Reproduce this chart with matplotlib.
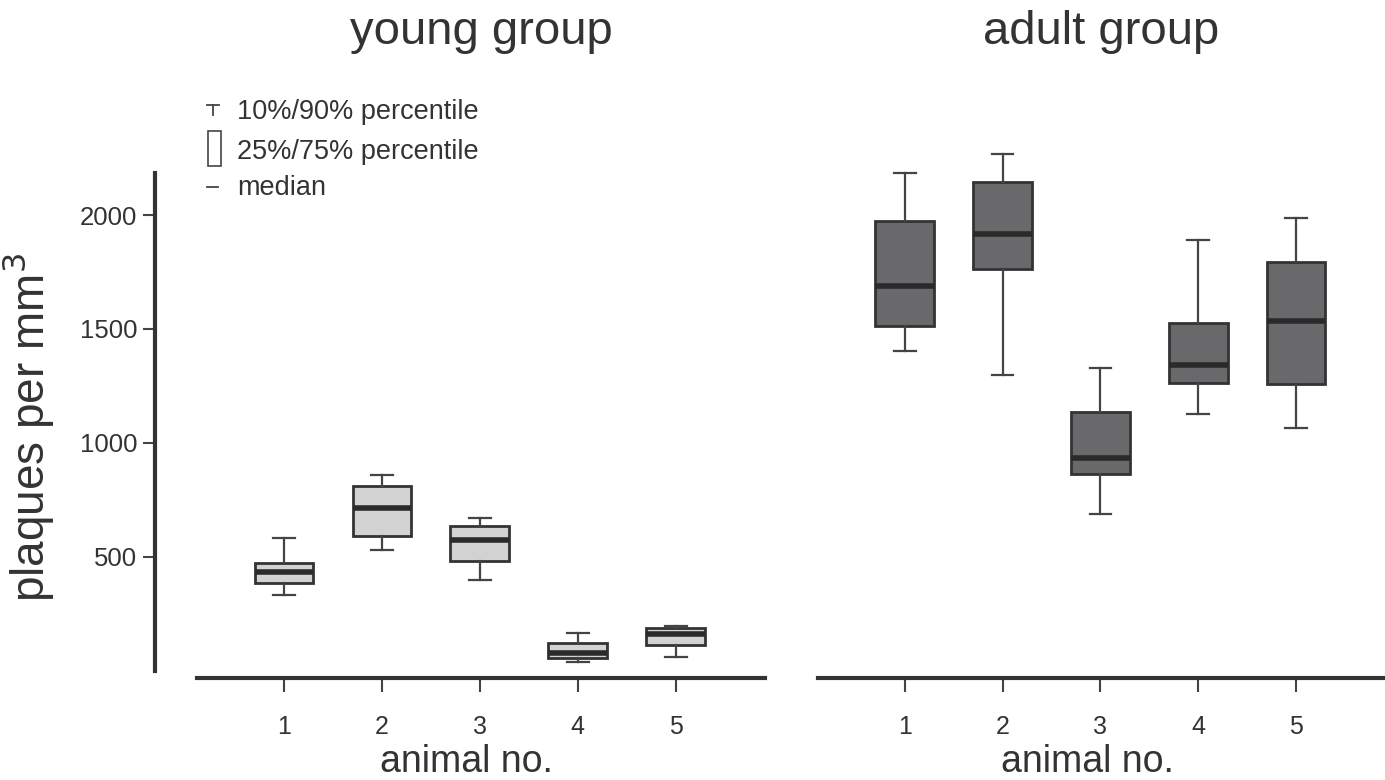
import matplotlib
matplotlib.use('Agg')
import matplotlib.pyplot as plt
from matplotlib.lines import Line2D
from matplotlib.patches import Rectangle

plt.rcParams['font.family'] = ['Liberation Sans', 'DejaVu Sans']

##### Data
animals = [1, 2, 3, 4, 5]

# young group: 10% / 25% / median / 75% / 90%
young_p10 = [332, 531, 400, 41, 63]
young_q1 = [386, 592, 482, 58, 113]
young_med = [433, 713, 573, 80, 164]
young_q3 = [472, 813, 635, 121, 190]
young_p90 = [582, 860, 671, 165, 197]

# adult group
adult_p10 = [1404, 1298, 689, 1126, 1064]
adult_q1 = [1515, 1763, 864, 1265, 1259]
adult_med = [1689, 1917, 936, 1342, 1534]
adult_q3 = [1974, 2143, 1136, 1525, 1794]
adult_p90 = [2185, 2268, 1328, 1889, 1988]

yticks = [500, 1000, 1500, 2000]
titles = ['young group', 'adult group']

TXT = '#333333'
LIGHT = '#d2d2d2'
DARK = '#69696c'


def make_stats(lo, q1, med, q3, hi):
    stats = []
    for a, b, c, d, e in zip(lo, q1, med, q3, hi):
        stats.append({'whislo': a, 'q1': b, 'med': c, 'q3': d, 'whishi': e, 'fliers': []})
    return stats


fig = plt.figure(figsize=(13.85, 7.8), dpi=100)
ax_y = fig.add_axes([0.1422, 0.1308, 0.4101, 0.6812])
ax_a = fig.add_axes([0.5906, 0.1308, 0.4094, 0.6812])

groups = [(ax_y, make_stats(young_p10, young_q1, young_med, young_q3, young_p90), LIGHT),
          (ax_a, make_stats(adult_p10, adult_q1, adult_med, adult_q3, adult_p90), DARK)]

for i, (ax, stats, fill) in enumerate(groups):
    ax.bxp(stats, positions=animals, widths=0.6, capwidths=0.22, patch_artist=True,
           showfliers=False,
           boxprops=dict(facecolor=fill, edgecolor='#333333', linewidth=2),
           medianprops=dict(color='#2a2a2a', linewidth=4, solid_capstyle='butt'),
           whiskerprops=dict(color='#444444', linewidth=1.6),
           capprops=dict(color='#444444', linewidth=1.6))
    ax.set_xlim(0.112, 5.91)
    ax.set_ylim(-31, 2300)
    ax.set_xticks(animals)
    ax.set_xticklabels([str(a) for a in animals])
    for s in ['top', 'right', 'left']:
        ax.spines[s].set_visible(False)
    ax.spines['bottom'].set_linewidth(3)
    ax.spines['bottom'].set_color('#333333')
    ax.tick_params(axis='x', direction='out', length=10, width=1.5, color='#444444',
                   labelsize=18, labelcolor=TXT, pad=17)
    ax.set_xlabel('animal no.', fontsize=27, color=TXT)
    ax.xaxis.set_label_coords(0.475, -0.124)
    ax.set_title(titles[i], fontsize=34, color=TXT, pad=74)
    ax.patch.set_visible(False)

# y axis only on the left panel, detached from the x-axis line
ax_y.spines['left'].set_visible(True)
ax_y.spines['left'].set_linewidth(3)
ax_y.spines['left'].set_color('#333333')
ax_y.spines['left'].set_position(('outward', 30))
ax_y.spines['left'].set_bounds(0, 2185)
ax_y.set_yticks(yticks)
ax_y.set_yticklabels([str(t) for t in yticks])
ax_y.tick_params(axis='y', direction='out', length=9, width=1.5, color='#444444',
                 labelsize=18.5, labelcolor=TXT, pad=4)
ax_y.set_ylabel('plaques per mm$^3$', fontsize=33, color=TXT)
ax_y.yaxis.set_label_coords(-0.248, 0.472)
ax_a.set_yticks([])

# legend drawn by hand (figure pixel coords -> fractions)
W, H = 1385, 780
def fx(px):
    return px / W
def fy(py):
    return 1 - py / H

lc = '#444444'
fig.add_artist(Line2D([fx(207), fx(219)], [fy(105), fy(105)], color=lc, lw=1.3))
fig.add_artist(Line2D([fx(213), fx(213)], [fy(105), fy(115)], color=lc, lw=1.3))
fig.add_artist(Rectangle((fx(208), fy(166)), fx(13), 35 / H, fill=False, edgecolor=lc, lw=1.2))
fig.add_artist(Line2D([fx(207), fx(218)], [fy(187), fy(187)], color=lc, lw=1.3))
legend_text = ['10%/90% percentile', '25%/75% percentile', 'median']
for txt, py in zip(legend_text, [112, 152, 188]):
    fig.text(fx(237), fy(py), txt, fontsize=19.5, color=TXT, va='center', ha='left')

fig.savefig('out.png', dpi=100)
